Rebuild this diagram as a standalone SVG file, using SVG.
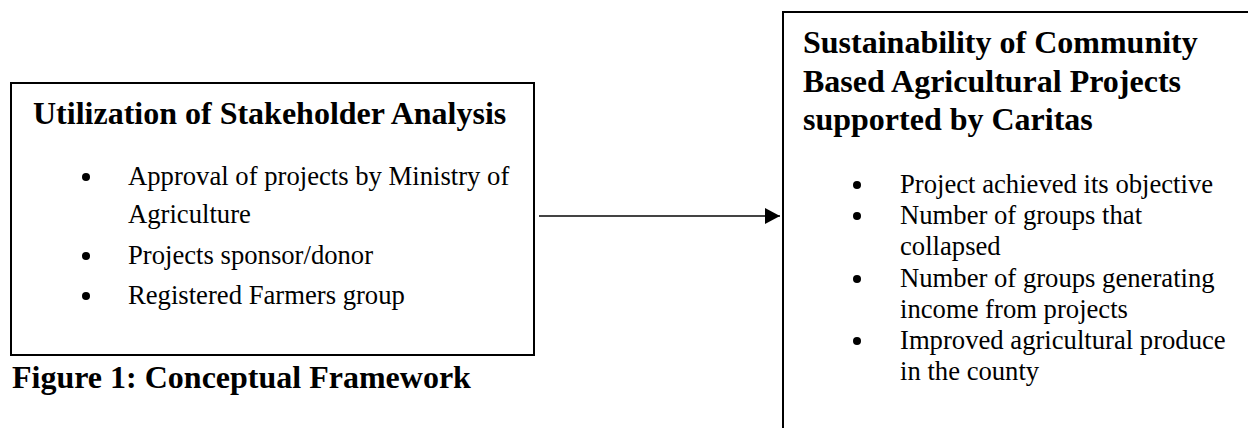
<svg xmlns="http://www.w3.org/2000/svg" width="1248" height="428" viewBox="0 0 1248 428">
  <style>
    .box { fill: #ffffff; stroke: #000000; stroke-width: 2; }
    .title { font-family: "Liberation Serif", "Times New Roman", serif; font-weight: bold; font-size: 32px; fill: #000000; }
    .body { font-family: "Liberation Serif", "Times New Roman", serif; font-size: 26.67px; fill: #000000; }
    .dot { fill: #000000; }
    .conn { stroke: #444444; stroke-width: 2; fill: none; }
  </style>
  <defs>
    <marker id="arrow" markerUnits="userSpaceOnUse" markerWidth="16" markerHeight="17" refX="15" refY="8" orient="auto">
      <polygon points="0,0 15,8 0,16" fill="#000000"/>
    </marker>
  </defs>
  <rect x="0" y="0" width="1248" height="428" fill="#ffffff"/>

  <g id="node-utilization">
    <rect class="box" x="11" y="83" width="523" height="272"/>
    <text class="title" x="33" y="124">Utilization of Stakeholder Analysis</text>
    <circle class="dot" cx="86" cy="177" r="4"/>
    <text class="body" x="128" y="185">Approval of projects by Ministry of</text>
    <text class="body" x="128" y="223">Agriculture</text>
    <circle class="dot" cx="86" cy="256" r="4"/>
    <text class="body" x="128" y="264">Projects sponsor/donor</text>
    <circle class="dot" cx="86" cy="296" r="4"/>
    <text class="body" x="128" y="304">Registered Farmers group</text>
  </g>

  <g id="caption">
    <text class="title" x="12" y="388">Figure 1: Conceptual Framework</text>
  </g>

  <g id="node-sustainability">
    <rect class="box" x="783" y="12" width="480" height="430"/>
    <text class="title" x="803" y="53">Sustainability of Community</text>
    <text class="title" x="803" y="92">Based Agricultural Projects</text>
    <text class="title" x="803" y="130">supported by Caritas</text>
    <circle class="dot" cx="857" cy="185" r="4"/>
    <text class="body" x="900" y="193">Project achieved its objective</text>
    <circle class="dot" cx="857" cy="216" r="4"/>
    <text class="body" x="900" y="224">Number of groups that</text>
    <text class="body" x="900" y="255">collapsed</text>
    <circle class="dot" cx="857" cy="279" r="4"/>
    <text class="body" x="900" y="287">Number of groups generating</text>
    <text class="body" x="900" y="318">income from projects</text>
    <circle class="dot" cx="857" cy="341" r="4"/>
    <text class="body" x="900" y="349">Improved agricultural produce</text>
    <text class="body" x="900" y="380">in the county</text>
  </g>

  <g id="connectors">
    <line class="conn" x1="539" y1="216" x2="780" y2="216" marker-end="url(#arrow)"/>
  </g>
</svg>
